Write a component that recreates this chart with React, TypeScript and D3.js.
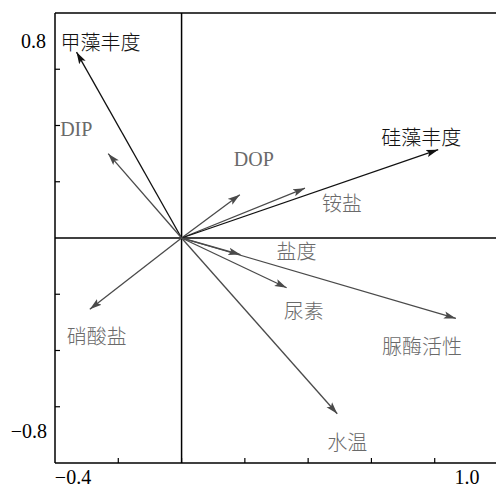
import React from "react";
import * as d3 from "d3";

const names = ["甲藻丰度", "DIP", "DOP", "铵盐", "硅藻丰度", "盐度", "尿素", "脲酶活性", "水温", "硝酸盐"];
const axis1 = [-0.332, -0.232, 0.184, 0.39, 0.811, 0.186, 0.332, 0.867, 0.492, -0.29];
const axis2 = [0.661, 0.3, 0.154, 0.177, 0.314, -0.059, -0.177, -0.286, -0.625, -0.253];
const isSpecies = [true, false, false, false, true, false, false, false, false, false];

// label offsets (px) from arrow tip: [dx to left edge, dy to centre]
const labelOffsets: [number, number][] = [
  [-16, -11], [-48, -25], [-6, -36], [17, 14], [-57, -13],
  [36, -4], [-3, 23], [-74, 27], [-10, 28], [-23, 26],
];

const xTicks = [-0.2, 0, 0.2, 0.4, 0.6, 0.8];
const yTicks = [-0.6, -0.4, -0.2, 0.2, 0.4, 0.6];

const W = 496, H = 488;
const L = 55, R = 498, T = 13, B = 463;

const latinFont = "'Liberation Serif', 'Times New Roman', serif";
const cjkFont = "'Noto Sans CJK SC', sans-serif";
const isLatin = (s: string) => /^[A-Za-z0-9.\u2212\-]+$/.test(s);

export default function App() {
  const x = d3.scaleLinear().domain([-0.4, 1.0]).range([L, R]);
  const y = d3.scaleLinear().domain([-0.8, 0.8]).range([B, T]);
  const x0 = x(0), y0 = y(0);
  const black = "#111";
  const grayLine = "#4a4a4a";
  const grayText = "#6a6a6a";

  return (
    <svg width={W} height={H} style={{ position: "absolute", left: 0, top: 0, background: "#fff" }}>
      <defs>
        <marker id="ahB" markerUnits="userSpaceOnUse" markerWidth="13" markerHeight="10" viewBox="0 0 13 10" refX="12" refY="5" orient="auto">
          <path d="M0,1.3 L12,5 L0,8.7 L2.5,5 Z" fill={black} />
        </marker>
        <marker id="ahG" markerUnits="userSpaceOnUse" markerWidth="13" markerHeight="10" viewBox="0 0 13 10" refX="12" refY="5" orient="auto">
          <path d="M0,1.3 L12,5 L0,8.7 L2.5,5 Z" fill={grayLine} />
        </marker>
      </defs>
      {/* frame */}
      <line x1={L} y1={T} x2={R} y2={T} stroke="#000" strokeWidth={1.5} />
      <line x1={L} y1={B} x2={R} y2={B} stroke="#000" strokeWidth={1.5} />
      <line x1={L} y1={T} x2={L} y2={B} stroke="#000" strokeWidth={1.5} />
      <line x1={R} y1={T} x2={R} y2={B} stroke="#000" strokeWidth={1.5} />
      {/* zero lines */}
      <line x1={x0} y1={T} x2={x0} y2={B} stroke="#000" strokeWidth={1.5} />
      <line x1={L} y1={y0} x2={R} y2={y0} stroke="#000" strokeWidth={1.5} />
      {/* ticks */}
      {xTicks.map((t) => (
        <line key={"xt" + t} x1={x(t)} x2={x(t)} y1={B} y2={B - 5} stroke="#000" strokeWidth={1.2} />
      ))}
      {yTicks.map((t) => (
        <line key={"yt" + t} x1={L} x2={L + 5} y1={y(t)} y2={y(t)} stroke="#000" strokeWidth={1.2} />
      ))}
      {/* tick labels */}
      <text x={L - 9} y={y(0.8) + 28} textAnchor="end" dominantBaseline="central" style={{ fontFamily: latinFont }} fontSize={20} fill="#000">0.8</text>
      <text x={L - 8} y={y(-0.8) - 32} textAnchor="end" dominantBaseline="central" style={{ fontFamily: latinFont }} fontSize={20} fill="#000">−0.8</text>
      <text x={x(-0.4) + 18} y={B + 14} textAnchor="middle" dominantBaseline="central" style={{ fontFamily: latinFont }} fontSize={20} fill="#000">−0.4</text>
      <text x={x(1.0) - 31} y={B + 14} textAnchor="middle" dominantBaseline="central" style={{ fontFamily: latinFont }} fontSize={20} fill="#000">1.0</text>
      {/* arrows */}
      {names.map((n, i) => (
        <line
          key={"a" + n}
          x1={x0}
          y1={y0}
          x2={x(axis1[i])}
          y2={y(axis2[i])}
          stroke={isSpecies[i] ? black : grayLine}
          strokeWidth={1.3}
          markerEnd={isSpecies[i] ? "url(#ahB)" : "url(#ahG)"}
        />
      ))}
      {names.map((n, i) => (
        <text
          key={"l" + n}
          x={x(axis1[i]) + labelOffsets[i][0]}
          y={y(axis2[i]) + labelOffsets[i][1]}
          dominantBaseline="central"
          style={{ fontFamily: isLatin(n) ? latinFont : cjkFont }}
          fontSize={20}
          fontWeight={isLatin(n) ? 400 : 300}
          fill={isSpecies[i] ? black : grayText}
        >
          {n}
        </text>
      ))}
    </svg>
  );
}
